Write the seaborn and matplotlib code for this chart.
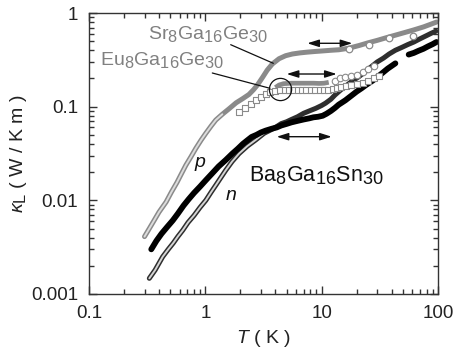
import matplotlib
matplotlib.use("Agg")
import matplotlib.pyplot as plt
import matplotlib.ticker as mticker
import matplotlib._mathtext as _mt
import seaborn as sns

# ---------------- data ----------------
# Sr8Ga16Ge30 (gray)
sr_T = [0.30, 0.33, 0.36, 0.40, 0.46, 0.51, 0.57, 0.62, 0.68, 0.75, 0.83, 0.92,
        1.01, 1.12, 1.23, 1.4, 1.6, 1.84, 2.1, 2.37, 2.6, 2.8, 3.1, 3.4, 3.76,
        4.3, 4.9, 5.6, 6.5, 7.5, 8.7, 10, 12, 14, 17, 21, 25, 30, 36, 43, 52,
        62, 75, 87, 97]
sr_k = [0.0041, 0.0050, 0.0060, 0.0075, 0.0096, 0.0122, 0.0155, 0.019, 0.0237,
        0.029, 0.036, 0.044, 0.052, 0.062, 0.072, 0.083, 0.095, 0.11, 0.122,
        0.135, 0.152, 0.17, 0.205, 0.245, 0.285, 0.325, 0.35, 0.365, 0.375,
        0.382, 0.388, 0.393, 0.40, 0.405, 0.42, 0.45, 0.48, 0.51, 0.545, 0.58,
        0.62, 0.66, 0.71, 0.76, 0.80]
sr_extra_T = [17.2, 25.6, 37.7, 61]
sr_extra_k = [0.41, 0.46, 0.54, 0.565]

# Eu8Ga16Ge30 (gray open squares)
eu_T = [1.95, 2.2, 2.45, 2.7, 3.0, 3.3, 3.6, 4.0, 4.4, 4.8, 5.2, 5.7, 6.2, 6.8,
        7.4, 8.1, 8.8, 9.6, 10.5, 11.4, 12.4, 13.5, 14.8, 16.2, 18, 20, 22.5,
        25, 28, 31]
eu_k = [0.087, 0.097, 0.108, 0.118, 0.128, 0.137, 0.143, 0.147, 0.149, 0.150,
        0.150, 0.150, 0.150, 0.150, 0.150, 0.150, 0.150, 0.150, 0.151, 0.152,
        0.155, 0.158, 0.162, 0.165, 0.17, 0.175, 0.18, 0.19, 0.20, 0.215]
# second Eu8Ga16Ge30 run (gray dense band, then open circles)
eu2_T = [4.0, 4.3, 4.7, 5.5, 6.5, 7.5, 8.5, 9.5, 10.5, 11.5]
eu2_k = [0.160, 0.170, 0.176, 0.178, 0.178, 0.178, 0.178, 0.177, 0.178, 0.182]
eu2c_T = [13, 14.5, 16, 18, 20, 22.5, 25, 28]
eu2c_k = [0.19, 0.20, 0.205, 0.21, 0.22, 0.235, 0.25, 0.27]

# Ba8Ga16Sn30 p-type (black filled)
p_low_T = [0.343, 0.38, 0.42, 0.47, 0.525, 0.58, 0.65, 0.72, 0.80, 0.90, 1.01,
           1.15, 1.3, 1.5, 1.71, 1.9, 2.1, 2.3, 2.5, 2.75, 3.0, 3.3, 3.7, 4.1,
           4.5, 5.0, 5.5, 6.2, 7.0, 7.8, 8.5, 9.3, 10.2, 11, 12, 13, 14, 15, 16,
           18, 20, 22, 24, 27.5, 32, 37, 43]
p_low_k = [0.0030, 0.0037, 0.0044, 0.0052, 0.0061, 0.0072, 0.0088, 0.0103,
           0.012, 0.014, 0.0164, 0.0195, 0.023, 0.027, 0.0316, 0.0355, 0.040,
           0.0438, 0.0475, 0.050, 0.053, 0.0555, 0.058, 0.060, 0.063, 0.0655,
           0.068, 0.0705, 0.073, 0.075, 0.077, 0.078, 0.080, 0.084, 0.090,
           0.097, 0.105, 0.111, 0.117, 0.131, 0.145, 0.157, 0.17, 0.19, 0.22,
           0.255, 0.29]
p_high_T = [56, 62, 68, 75, 82, 90, 97]
p_high_k = [0.36, 0.375, 0.395, 0.415, 0.44, 0.465, 0.49]

# Ba8Ga16Sn30 n-type (black open circles)
n_T = [0.33, 0.37, 0.43, 0.48, 0.53, 0.58, 0.64, 0.71, 0.80, 0.90, 1.01, 1.12,
       1.23, 1.36, 1.5, 1.7, 1.95, 2.3, 2.7, 3.2, 3.6, 4.0, 4.5, 5.0, 5.5, 6.2,
       7.0, 8.0, 8.9, 10, 10.8, 12, 13, 14.5, 16, 18, 21, 24, 27, 30, 34, 38,
       43, 49, 55, 62, 70, 80, 88, 96]
n_k = [0.00147, 0.0018, 0.0025, 0.0030, 0.0035, 0.0041, 0.0048, 0.0058, 0.0069,
       0.0084, 0.010, 0.0122, 0.0145, 0.0175, 0.021, 0.026, 0.0316, 0.038,
       0.044, 0.052, 0.056, 0.060, 0.066, 0.069, 0.073, 0.078, 0.085, 0.091,
       0.096, 0.103, 0.109, 0.12, 0.133, 0.15, 0.165, 0.185, 0.21, 0.24, 0.27,
       0.30, 0.33, 0.365, 0.40, 0.43, 0.46, 0.49, 0.53, 0.575, 0.61, 0.64]

x_ticks = [0.1, 1, 10, 100]
x_tick_labels = ["0.1", "1", "10", "100"]
y_ticks = [0.001, 0.01, 0.1, 1]
y_tick_labels = ["0.001", "0.01", "0.1", "1"]

# ---------------- style ----------------
sns.set_style("ticks")
plt.rcParams["font.family"] = ["Liberation Sans", "DejaVu Sans"]
plt.rcParams["mathtext.fontset"] = "custom"
plt.rcParams["mathtext.rm"] = "Liberation Sans"
plt.rcParams["mathtext.it"] = "Liberation Sans:italic"
plt.rcParams["mathtext.bf"] = "Liberation Sans:bold"
try:
    _mt.SHRINK_FACTOR = 0.84   # larger subscripts, as in the reference
except Exception:
    pass

AX = "#333333"
GRAY = "#8a8a8a"
TXTGRAY = "#808080"

fig = plt.figure(figsize=(4.55, 3.54), dpi=100)
ax = fig.add_axes([89 / 455, 1 - 294 / 354, 349 / 455, 281 / 354])
ax.set_xscale("log")
ax.set_yscale("log")

# Sr8Ga16Ge30
sns.lineplot(x=sr_T, y=sr_k, ax=ax, estimator=None, sort=False, color=GRAY,
             linewidth=3.6, solid_capstyle="round")
sns.lineplot(x=sr_T[:16], y=sr_k[:16], ax=ax, estimator=None, sort=False,
             color="#dcdcdc", linewidth=1.4, solid_capstyle="round")
sns.scatterplot(x=sr_extra_T, y=sr_extra_k, ax=ax, marker="o", s=22,
                facecolor="white", edgecolor=GRAY, linewidth=0.9, zorder=4)

# Eu8Ga16Ge30
sns.lineplot(x=eu2_T, y=eu2_k, ax=ax, estimator=None, sort=False, color=GRAY,
             linewidth=3.4, solid_capstyle="butt")
sns.scatterplot(x=eu_T, y=eu_k, ax=ax, marker="s", s=13, facecolor="white",
                edgecolor=GRAY, linewidth=0.8, zorder=3)
sns.scatterplot(x=eu2c_T, y=eu2c_k, ax=ax, marker="o", s=22, facecolor="white",
                edgecolor=GRAY, linewidth=0.8, zorder=3)

# Ba8Ga16Sn30 n
sns.lineplot(x=n_T, y=n_k, ax=ax, estimator=None, sort=False, color="#2e2e2e",
             linewidth=3.6, solid_capstyle="round")
sns.lineplot(x=n_T[:20], y=n_k[:20], ax=ax, estimator=None, sort=False,
             color="#d4d4d4", linewidth=1.4, solid_capstyle="round")

# Ba8Ga16Sn30 p
sns.lineplot(x=p_low_T, y=p_low_k, ax=ax, estimator=None, sort=False,
             color="black", linewidth=4.2, solid_capstyle="round")
sns.lineplot(x=p_high_T, y=p_high_k, ax=ax, estimator=None, sort=False,
             color="black", linewidth=4.2, solid_capstyle="round")

# ---------------- axes ----------------
ax.set_xlim(0.1, 100)
ax.set_ylim(0.001, 1)
ax.xaxis.set_major_locator(mticker.FixedLocator(x_ticks))
ax.xaxis.set_major_formatter(mticker.FixedFormatter(x_tick_labels))
ax.yaxis.set_major_locator(mticker.FixedLocator(y_ticks))
ax.yaxis.set_major_formatter(mticker.FixedFormatter(y_tick_labels))
ax.xaxis.set_minor_locator(mticker.LogLocator(base=10, subs=range(2, 10), numticks=20))
ax.yaxis.set_minor_locator(mticker.LogLocator(base=10, subs=range(2, 10), numticks=20))
ax.xaxis.set_minor_formatter(mticker.NullFormatter())
ax.yaxis.set_minor_formatter(mticker.NullFormatter())
ax.tick_params(which="both", direction="in", top=True, right=True, color=AX,
               width=1.0, labelsize=13.5, labelcolor="#222222", pad=8)
ax.tick_params(which="major", length=6)
ax.tick_params(which="minor", length=3.5)
for sp in ax.spines.values():
    sp.set_color(AX)
    sp.set_linewidth(1.0)

ax.set_xlabel(r"$T$ ( K )", fontsize=14, color="#222222", labelpad=4)
ax.set_ylabel(r"$\kappa_{\mathrm{L}}$ ( W / K m )", fontsize=14,
              color="#222222", labelpad=1)

# ---------------- annotations ----------------
ax.text(0.169, 0.906, r"Sr$_8$Ga$_{16}$Ge$_{30}$", transform=ax.transAxes,
        fontsize=14, color=TXTGRAY, ha="left", va="baseline")
ax.text(0.0315, 0.815, r"Eu$_8$Ga$_{16}$Ge$_{30}$", transform=ax.transAxes,
        fontsize=14, color=TXTGRAY, ha="left", va="baseline")
ax.text(0.458, 0.40, r"Ba$_8$Ga$_{16}$Sn$_{30}$", transform=ax.transAxes,
        fontsize=15.5, color="#111111", ha="left", va="baseline")
ax.text(0.318, 0.452, "p", transform=ax.transAxes, fontsize=14,
        style="italic", color="#111111", ha="center", va="baseline")
ax.text(0.407, 0.335, "n", transform=ax.transAxes, fontsize=14,
        style="italic", color="#111111", ha="center", va="baseline")

ax.plot([0.4060, 0.5281], [0.8872, 0.8210], transform=ax.transAxes,
        color="#111111", lw=0.9)
ax.plot([0.3533, 0.5186], [0.7865, 0.7320], transform=ax.transAxes,
        color="#111111", lw=0.9)
ax.plot([0.5473], [0.7313], transform=ax.transAxes, marker="o", ms=16,
        mfc="none", mec="#111111", mew=0.9, zorder=6)

for (x0, x1, yy) in [(0.6255, 0.7545, 0.8922), (0.5665, 0.7097, 0.7829),
                     (0.5378, 0.6954, 0.5598)]:
    ax.annotate("", xy=(x1, yy), xytext=(x0, yy), xycoords="axes fraction",
                textcoords="axes fraction",
                arrowprops=dict(arrowstyle="<|-|>,head_length=0.7,head_width=0.22",
                                color="#111111", lw=1.0, shrinkA=0, shrinkB=0))

fig.savefig("out.png", dpi=100)
